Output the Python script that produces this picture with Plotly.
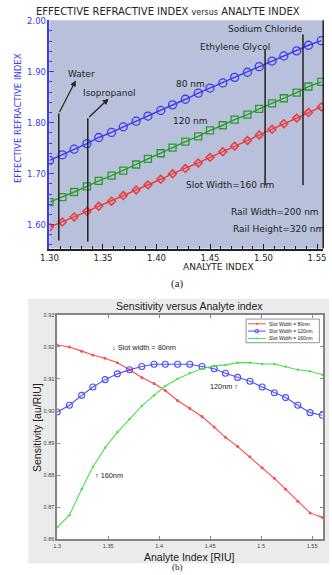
import plotly.graph_objects as go

W, H = 332, 575
def px(x): return x / W
def py(y): return 1 - y / H

# ---------------- data (a) ----------------
analyte_a = [1.300, 1.312, 1.323, 1.335, 1.346, 1.358, 1.369, 1.381, 1.392, 1.404, 1.415, 1.427,
             1.439, 1.450, 1.462, 1.473, 1.485, 1.496, 1.508, 1.519, 1.531, 1.542, 1.554]
neff_80 = [1.726, 1.737, 1.748, 1.759, 1.771, 1.781, 1.792, 1.803, 1.813, 1.824, 1.835, 1.846,
           1.858, 1.868, 1.878, 1.889, 1.899, 1.910, 1.921, 1.931, 1.941, 1.952, 1.961]
neff_120 = [1.644, 1.654, 1.664, 1.675, 1.686, 1.696, 1.706, 1.718, 1.729, 1.740, 1.751, 1.763,
            1.773, 1.785, 1.795, 1.806, 1.816, 1.827, 1.838, 1.848, 1.859, 1.871, 1.880]
neff_160 = [1.595, 1.605, 1.615, 1.626, 1.636, 1.646, 1.657, 1.668, 1.678, 1.689, 1.700, 1.710,
            1.721, 1.732, 1.743, 1.754, 1.765, 1.776, 1.787, 1.798, 1.809, 1.820, 1.831]
analyte_names = ["Water", "Isopropanol", "Ethylene Glycol", "Sodium Chloride"]
analyte_index = [1.3087, 1.3358, 1.5015, 1.5369]
analyte_line_top = [1.818, 1.8085, 1.944, 1.973]
analyte_line_bottom = [1.569, 1.567, 1.677, 1.677]

# ---------------- data (b) ----------------
analyte_b = [1.300, 1.312, 1.324, 1.335, 1.347, 1.359, 1.371, 1.383, 1.395, 1.406, 1.418, 1.430,
             1.442, 1.454, 1.465, 1.477, 1.489, 1.501, 1.513, 1.524, 1.536, 1.548, 1.560]
sens_80 = [0.9206, 0.9200, 0.9187, 0.9175, 0.9165, 0.9151, 0.9129, 0.9105, 0.9086, 0.9064, 0.9033, 0.9009,
           0.8983, 0.8950, 0.8918, 0.8889, 0.8857, 0.8823, 0.8790, 0.8756, 0.8718, 0.8682, 0.8668]
sens_120 = [0.8997, 0.9018, 0.9049, 0.9075, 0.9098, 0.9116, 0.9129, 0.9139, 0.9146, 0.9146, 0.9146, 0.9146,
            0.9139, 0.9132, 0.9118, 0.9105, 0.9093, 0.9075, 0.9057, 0.9042, 0.9018, 0.8995, 0.8987]
sens_160 = [0.8637, 0.8675, 0.8756, 0.8826, 0.8885, 0.8934, 0.8975, 0.9016, 0.9049, 0.9078, 0.9100, 0.9118,
            0.9132, 0.9141, 0.9144, 0.9151, 0.9151, 0.9147, 0.9147, 0.9139, 0.9129, 0.9124, 0.9113]
legend_names = ["Slot Width = 80nm", "Slot Width = 120nm", "Slot Width = 160nm"]

BLUE_A = "#3a3af0"
GREEN_A = "#2c9a2c"
RED_A = "#ee3a3a"
FONT_A = "DejaVu Sans"
FONT_B = "Liberation Sans"

fig = go.Figure()

# chart (a)
fig.add_trace(go.Scatter(x=analyte_a, y=neff_80, mode="lines+markers", xaxis="x", yaxis="y",
                         line=dict(color=BLUE_A, width=1.4),
                         marker=dict(symbol="circle-open", size=8, color=BLUE_A, line=dict(width=1.3)),
                         showlegend=False))
fig.add_trace(go.Scatter(x=analyte_a, y=neff_120, mode="lines+markers", xaxis="x", yaxis="y",
                         line=dict(color=GREEN_A, width=1.4),
                         marker=dict(symbol="square-open", size=7, color=GREEN_A, line=dict(width=1.3)),
                         showlegend=False))
fig.add_trace(go.Scatter(x=analyte_a, y=neff_160, mode="lines+markers", xaxis="x", yaxis="y",
                         line=dict(color=RED_A, width=1.4),
                         marker=dict(symbol="diamond-open", size=6, color=RED_A, line=dict(width=1.5)),
                         showlegend=False))

# chart (b)
RED_B, BLUE_B, GREEN_B = "#ff4d4d", "#4d4dff", "#4ee04e"
fig.add_trace(go.Scatter(x=analyte_b, y=sens_80, mode="lines+markers", xaxis="x2", yaxis="y2",
                         line=dict(color=RED_B, width=1.1),
                         marker=dict(symbol="circle", size=3, color=RED_B), showlegend=False))
fig.add_trace(go.Scatter(x=analyte_b, y=sens_120, mode="lines+markers", xaxis="x2", yaxis="y2",
                         line=dict(color=BLUE_B, width=1.1),
                         marker=dict(symbol="circle-open", size=6, color=BLUE_B, line=dict(width=1.1)),
                         showlegend=False))
fig.add_trace(go.Scatter(x=analyte_b, y=sens_160, mode="lines+markers", xaxis="x2", yaxis="y2",
                         line=dict(color=GREEN_B, width=1.1),
                         marker=dict(symbol="circle", size=2.5, color=GREEN_B), showlegend=False))

shapes = []
# gray figure panel for (b)
shapes.append(dict(type="rect", xref="paper", yref="paper", x0=px(20), x1=1.0, y0=py(566), y1=py(298),
                   fillcolor="#ebebeb", line=dict(width=0), layer="below"))
# plot backgrounds
shapes.append(dict(type="rect", xref="x domain", yref="y domain", x0=0, x1=1, y0=0, y1=1,
                   fillcolor="#b8c0dc", line=dict(width=0), layer="below"))
shapes.append(dict(type="rect", xref="x2 domain", yref="y2 domain", x0=0, x1=1, y0=0, y1=1,
                   fillcolor="white", line=dict(width=0), layer="below"))
# right frame of (a)
shapes.append(dict(type="line", xref="x domain", yref="y domain", x0=1, x1=1, y0=0, y1=1,
                   line=dict(color="#222", width=1.5)))
# analyte marker lines
for xi, yt, yb in zip(analyte_index, analyte_line_top, analyte_line_bottom):
    shapes.append(dict(type="line", xref="x", yref="y", x0=xi, x1=xi, y0=yb, y1=yt,
                       line=dict(color="#222", width=1.5)))

annotations = []
def ann_a(text, x, y, size=9):
    annotations.append(dict(text=text, x=x, y=y, xref="x", yref="y", showarrow=False,
                            xanchor="center", yanchor="middle",
                            font=dict(family=FONT_A, size=size, color="#222")))

ann_a("Water", 1.3297, 1.8956)
ann_a("Isopropanol", 1.3559, 1.8588)
ann_a("Ethylene Glycol", 1.473, 1.948)
ann_a("Sodium Chloride", 1.5018, 1.9845)
ann_a("80 nm", 1.432, 1.876)
ann_a("120 nm", 1.4315, 1.803)
ann_a("Slot Width=160 nm", 1.4685, 1.677)
ann_a("Rail Width=200 nm", 1.5108, 1.625)
ann_a("Rail Height=320 nm", 1.514, 1.592)

# arrows
annotations.append(dict(x=1.3246, y=1.883, ax=1.3087, ay=1.818, xref="x", yref="y", axref="x", ayref="y",
                        text="", showarrow=True, arrowhead=2, arrowsize=1, arrowwidth=1.2, arrowcolor="#222"))
annotations.append(dict(x=1.3552, y=1.8472, ax=1.3358, ay=1.8085, xref="x", yref="y", axref="x", ayref="y",
                        text="", showarrow=True, arrowhead=2, arrowsize=1, arrowwidth=1.2, arrowcolor="#222"))

def ann_p(text, x, y, size, family, color="#222", angle=0, xanchor="center", yanchor="middle"):
    annotations.append(dict(text=text, x=px(x), y=py(y), xref="paper", yref="paper", showarrow=False,
                            xanchor=xanchor, yanchor=yanchor, textangle=angle,
                            font=dict(family=family, size=size, color=color)))

# titles (a)
ann_p("EFFECTIVE REFRACTIVE INDEX <span style='font-size:8px'>versus</span> ANALYTE INDEX", 165, 7, 10, FONT_A)
ann_p("EFFECTIVE REFRACTIVE INDEX", 10, 115, 8.5, FONT_A, color=BLUE_A, angle=-90)
ann_p("ANALYTE INDEX", 217, 266, 9, FONT_A)
ann_p("(a)", 175, 282, 11, "Liberation Serif")

# titles (b)
ann_p("Sensitivity versus Analyte index", 187, 305, 10.5, FONT_B)
ann_p("Analyte Index [RIU]", 187, 560, 10.5, FONT_B)
ann_p("Sensitivity [au/RIU]", 29, 428, 10.5, FONT_B, angle=-90)
ann_p("(b)", 175, 570, 9, "Liberation Serif")

def ann_b(text, x, y):
    annotations.append(dict(text=text, x=x, y=y, xref="x2", yref="y2", showarrow=False,
                            xanchor="center", yanchor="middle",
                            font=dict(family=FONT_B, size=7.3, color="#222")))
ann_b("↓ Slot width = 80nm", 1.385, 0.9199)
ann_b("120nm ↑", 1.4638, 0.9076)
ann_b("↑ 160nm", 1.3506, 0.8800)

# legend for (b)
shapes.append(dict(type="rect", xref="paper", yref="paper", x0=px(246), x1=px(322), y0=py(342.5), y1=py(318.5),
                   fillcolor="white", line=dict(color="#777", width=0.8)))
leg_colors = [RED_B, BLUE_B, GREEN_B]
leg_y = [323.3, 330.7, 338.2]
for name, col, yy in zip(legend_names, leg_colors, leg_y):
    shapes.append(dict(type="line", xref="paper", yref="paper", x0=px(248), x1=px(266.5), y0=py(yy), y1=py(yy),
                       line=dict(color=col, width=1)))
    if col == BLUE_B:
        shapes.append(dict(type="circle", xref="paper", yref="paper", x0=px(255.3), x1=px(259), y0=py(yy + 1.8),
                           y1=py(yy - 1.8), line=dict(color=col, width=1)))
    else:
        shapes.append(dict(type="circle", xref="paper", yref="paper", x0=px(256.3), x1=px(258), y0=py(yy + 0.85),
                           y1=py(yy - 0.85), fillcolor=col, line=dict(color=col, width=0.5)))
    ann_p(name, 268, yy, 5, FONT_B, xanchor="left")

fig.update_layout(
    width=W, height=H, margin=dict(l=0, r=0, t=0, b=0),
    paper_bgcolor="white", plot_bgcolor="rgba(0,0,0,0)",
    showlegend=False,
    xaxis=dict(domain=[px(42), px(326)], range=[1.30, 1.5558], anchor="y",
               showline=True, linecolor="#222", linewidth=1.5, ticks="inside", ticklen=5, tickcolor="#222",
               tickwidth=1.2, dtick=0.05, tick0=1.3, tickformat=".2f",
               tickfont=dict(family=FONT_A, size=8.5, color="#222"),
               minor=dict(dtick=0.01, ticks="inside", ticklen=3, tickcolor="#222"),
               showgrid=False, zeroline=False),
    yaxis=dict(domain=[py(247), py(15.5)], range=[1.553, 2.001], anchor="x",
               showline=True, linecolor=BLUE_A, linewidth=1.5, ticks="inside", ticklen=5, tickcolor=BLUE_A,
               tickwidth=1.2, dtick=0.1, tick0=1.6, tickformat=".2f",
               tickfont=dict(family=FONT_A, size=8.5, color=BLUE_A),
               minor=dict(dtick=0.02, ticks="inside", ticklen=3, tickcolor=BLUE_A),
               showgrid=False, zeroline=False),
    xaxis2=dict(domain=[px(50), px(326)], range=[1.30, 1.5609], anchor="y2",
                showline=True, mirror="ticks", linecolor="#858585", linewidth=1.5, ticks="inside", ticklen=3,
                tickcolor="#858585", dtick=0.05, tick0=1.3,
                tickfont=dict(family=FONT_B, size=5.5, color="#444"),
                showgrid=False, zeroline=False),
    yaxis2=dict(domain=[py(541.7), py(314.3)], range=[0.86, 0.93], anchor="x2",
                showline=True, mirror="ticks", linecolor="#858585", linewidth=1.5, ticks="inside", ticklen=3,
                tickcolor="#858585", dtick=0.01, tick0=0.86, tickformat=".2f",
                tickfont=dict(family=FONT_B, size=5.5, color="#444"),
                showgrid=False, zeroline=False),
    shapes=shapes, annotations=annotations,
)

fig.write_html("out.html")
